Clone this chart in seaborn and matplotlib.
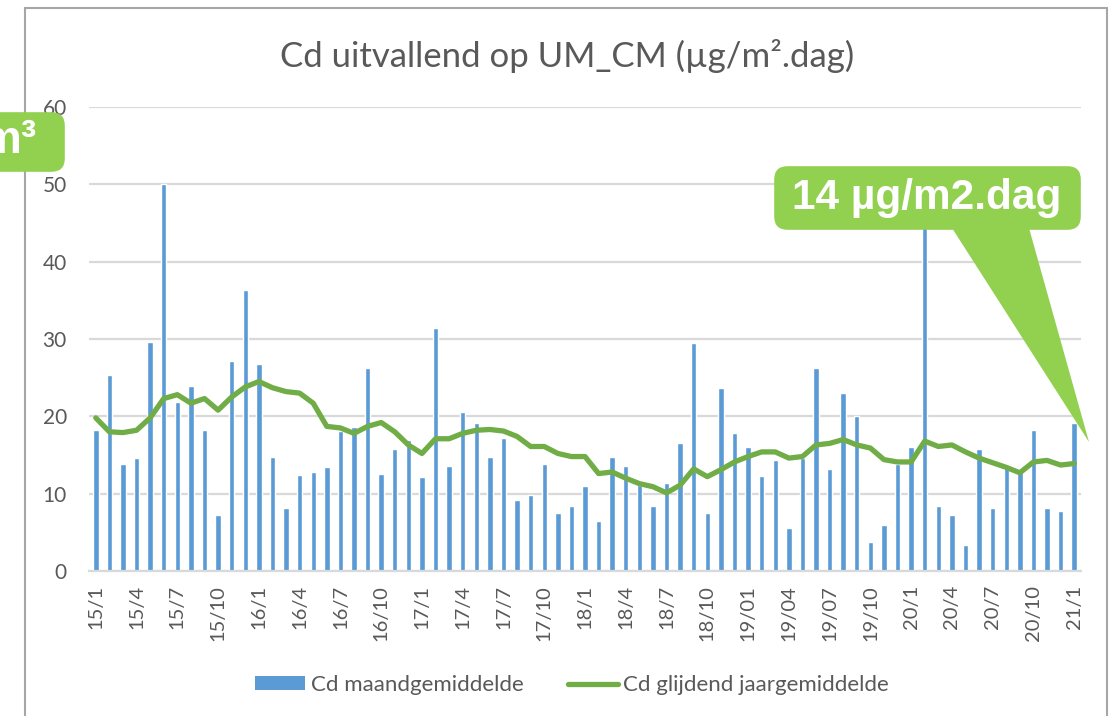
import numpy as np
import pandas as pd
import matplotlib
matplotlib.use("Agg")
import matplotlib.pyplot as plt
import seaborn as sns
from matplotlib.patches import FancyBboxPatch, Polygon, Rectangle
from matplotlib.lines import Line2D
from matplotlib.patches import Patch

# ---------------- data ----------------
years = [15, 16, 17, 18, 19, 20, 21]
monthly = [18.2, 25.4, 13.9, 14.6, 29.6, 50.0, 21.8, 23.9, 18.2, 7.3, 27.1, 36.4,
           26.8, 14.8, 8.1, 12.4, 12.8, 13.4, 18.1, 18.6, 26.3, 12.5, 15.8, 16.9,
           12.1, 31.4, 13.6, 20.5, 19.2, 14.8, 17.2, 9.2, 9.8, 13.8, 7.5, 8.4,
           11.0, 6.5, 14.8, 13.6, 11.1, 8.4, 11.4, 16.5, 29.5, 7.5, 23.6, 17.8,
           16.0, 12.3, 14.4, 5.5, 14.6, 26.3, 13.2, 23.0, 20.1, 3.7, 6.0, 13.9,
           16.0, 47.0, 8.4, 7.2, 3.4, 15.8, 8.2, 13.5, 13.0, 18.2, 8.2, 7.7, 19.2]
rolling = [19.8, 18.0, 17.9, 18.2, 19.8, 22.3, 22.8, 21.7, 22.3, 20.8, 22.5, 23.8,
           24.5, 23.7, 23.2, 23.0, 21.7, 18.7, 18.5, 17.8, 18.7, 19.2, 18.0, 16.3,
           15.2, 17.1, 17.1, 17.8, 18.2, 18.3, 18.1, 17.4, 16.1, 16.1, 15.2, 14.8,
           14.8, 12.6, 12.8, 12.0, 11.3, 10.9, 10.1, 11.1, 13.2, 12.2, 13.1, 14.1,
           14.8, 15.4, 15.4, 14.6, 14.8, 16.3, 16.5, 17.0, 16.3, 15.9, 14.4, 14.1,
           14.1, 16.8, 16.1, 16.3, 15.4, 14.6, 14.0, 13.4, 12.7, 14.1, 14.3, 13.7, 13.9]
tick_labels = ["15/1", "15/4", "15/7", "15/10", "16/1", "16/4", "16/7", "16/10",
               "17/1", "17/4", "17/7", "17/10", "18/1", "18/4", "18/7", "18/10",
               "19/01", "19/04", "19/07", "19/10", "20/1", "20/4", "20/7", "20/10", "21/1"]
months = [f"{y}/{m}" for y in years for m in range(1, 13)][:len(monthly)]

title = "Cd uitvallend op UM_CM (µg/m².dag)"
callout_text = "14 µg/m2.dag"
side_text = "m³"
bar_label = "Cd maandgemiddelde"
line_label = "Cd glijdend jaargemiddelde"

df = pd.DataFrame({"month": months, "monthly": monthly, "rolling": rolling})
df["pos"] = np.arange(len(df))

BLUE = "#5B9BD5"
GREEN = "#70AD47"
CALLOUT = "#92D050"
GRAY_TXT = "#595959"
GRID = "#D9D9D9"

sns.set_theme(style="white")
plt.rcParams["font.family"] = ["Lato", "DejaVu Sans"]

W, H = 1115, 716
fig = plt.figure(figsize=(W / 100, H / 100), dpi=100)
ax = fig.add_axes([89 / W, 1 - 571 / H, (1081 - 89) / W, (571 - 107) / H])

sns.barplot(data=df, x="month", y="monthly", order=months, color=BLUE,
            width=0.4, saturation=1, ax=ax, zorder=2)
sns.lineplot(data=df, x="pos", y="rolling", color=GREEN, linewidth=3.8,
             ax=ax, zorder=3)

ax.set_xlim(-0.5, len(months) - 0.5)
ax.set_ylim(0, 60)
ax.set_yticks(range(0, 61, 10))
ax.yaxis.grid(True, color=GRID, linewidth=1.6, zorder=0)
ax.set_axisbelow(True)
for s in ["top", "right", "left"]:
    ax.spines[s].set_visible(False)
ax.spines["bottom"].set_color(GRID)
ax.spines["bottom"].set_linewidth(1.6)
ax.set_xlabel("")
ax.set_ylabel("")
ax.set_xticks(np.arange(0, len(months), 3))
ax.set_xticklabels(tick_labels, rotation=90, fontsize=14.5, color=GRAY_TXT)
ax.tick_params(axis="x", length=0, pad=10)
ax.tick_params(axis="y", length=0, pad=16, labelsize=15, labelcolor=GRAY_TXT)

fig.text(567 / W, 1 - 56 / H, title, ha="center", va="center",
         fontsize=25, color=GRAY_TXT)

handles = [Patch(facecolor=BLUE, edgecolor="none"),
           Line2D([0], [0], color=GREEN, linewidth=3.8)]
fig.legend(handles, [bar_label, line_label], loc="center",
           bbox_to_anchor=(572 / W, 1 - 685 / H), ncol=2, frameon=False,
           fontsize=16, handlelength=2.25, handleheight=0.55,
           handletextpad=0.25, columnspacing=2.0, labelcolor=GRAY_TXT)

# chart frame
fig.add_artist(Rectangle((25 / W, -0.05), (1107 - 25) / W, 1 - 8 / H + 0.05,
                         transform=fig.transFigure, fill=False,
                         edgecolor="#A6A6A6", linewidth=1.5))

# callout box with pointer
tr = fig.transFigure
fig.add_artist(Polygon([(952 / W, 1 - 228 / H), (1029 / W, 1 - 228 / H),
                        (1089 / W, 1 - 442 / H)], closed=True,
                       transform=tr, facecolor=CALLOUT, edgecolor="none", zorder=10))
fig.add_artist(FancyBboxPatch((782 / W, 1 - 222 / H), (1073 - 782) / W, (222 - 174) / H,
                              boxstyle="round,pad=0.007,rounding_size=0.012",
                              transform=tr, facecolor=CALLOUT, edgecolor="none",
                              zorder=11, mutation_aspect=W / H))
fig.text(927 / W, 1 - 198 / H, callout_text, ha="center", va="center",
         fontsize=30.5, fontweight="bold", color="white",
         family=["Liberation Sans", "DejaVu Sans"], zorder=12)

# partial callout on the left edge (cropped in the original)
fig.add_artist(FancyBboxPatch((-40 / W, 1 - 164 / H), (57 + 40) / W, (164 - 120) / H,
                              boxstyle="round,pad=0.007,rounding_size=0.012",
                              transform=tr, facecolor=CALLOUT, edgecolor="none",
                              zorder=11, mutation_aspect=W / H))
fig.text(37 / W, 1 - 141 / H, side_text, ha="right", va="center",
         fontsize=33, fontweight="bold", color="white",
         family=["Liberation Sans", "DejaVu Sans"], zorder=12)

fig.savefig("out.png", dpi=100, facecolor="white")
